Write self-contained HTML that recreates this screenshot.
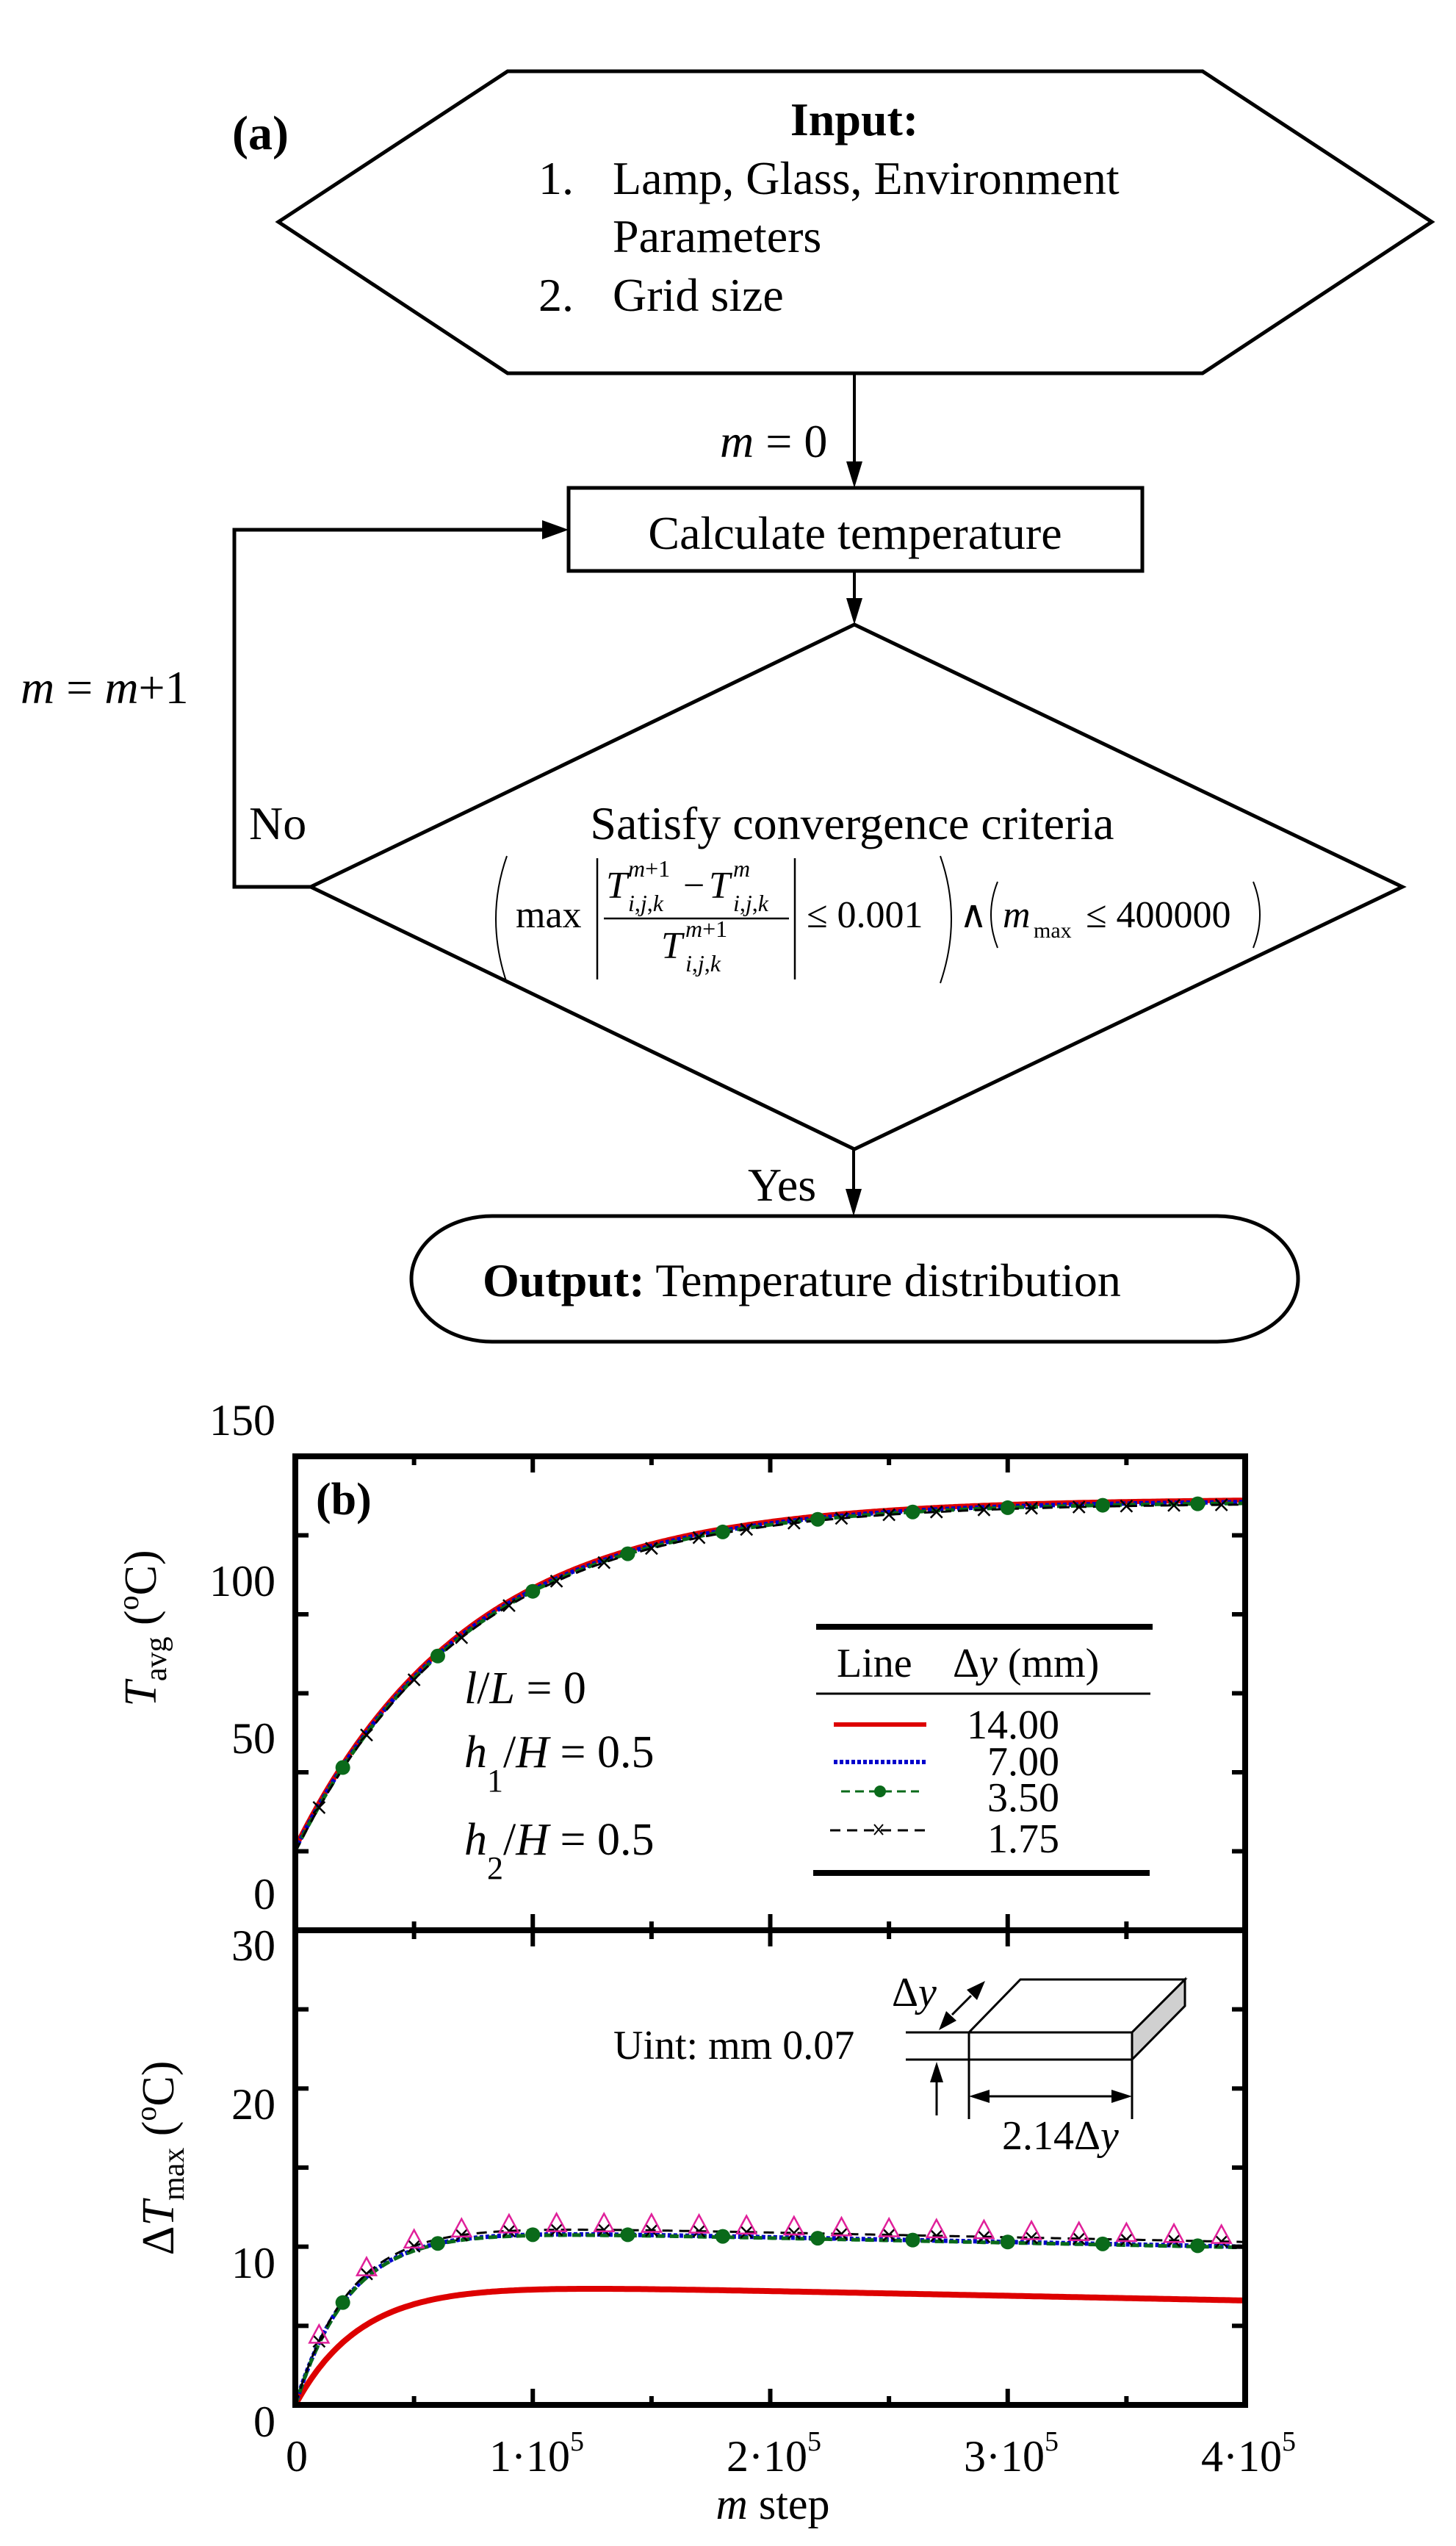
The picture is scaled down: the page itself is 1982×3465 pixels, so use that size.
<!DOCTYPE html>
<html><head><meta charset="utf-8"><style>
html,body{margin:0;padding:0;background:#fff}
svg{display:block}
text{font-family:"Liberation Serif",serif;fill:#000}
</style></head><body>
<svg id="s" width="1982" height="3465" viewBox="0 0 1982 3465" xmlns="http://www.w3.org/2000/svg">
<!-- (a) flowchart -->
<text x="316" y="203" font-size="66" font-weight="bold">(a)</text>
<polygon points="691,97 1637,97 1949,302 1637,508 691,508 379,302" fill="none" stroke="#000" stroke-width="5"/>
<text x="1163" y="184" font-size="64" font-weight="bold" text-anchor="middle">Input:</text>
<text x="733" y="264" font-size="64">1.</text>
<text x="834" y="264" font-size="64">Lamp, Glass, Environment</text>
<text x="834" y="343" font-size="64">Parameters</text>
<text x="733" y="423" font-size="64">2.</text>
<text x="834" y="423" font-size="64">Grid size</text>

<line x1="1163" y1="508" x2="1163" y2="630" stroke="#000" stroke-width="4"/>
<polygon points="1152,628 1174,628 1163,664" fill="#000"/>
<text x="980" y="622" font-size="64"><tspan font-style="italic">m</tspan> = 0</text>

<rect x="774" y="664" width="781" height="113" fill="none" stroke="#000" stroke-width="5"/>
<text x="1164" y="747" font-size="64" text-anchor="middle">Calculate temperature</text>

<line x1="1163" y1="777" x2="1163" y2="816" stroke="#000" stroke-width="4"/>
<polygon points="1152,814 1174,814 1163,850" fill="#000"/>

<polygon points="1163,850 1909,1207 1163,1564 423,1207" fill="none" stroke="#000" stroke-width="5"/>
<text x="1160" y="1142" font-size="64" text-anchor="middle">Satisfy convergence criteria</text>

<!-- formula -->
<path d="M690,1165 Q660,1250 690,1338" fill="none" stroke="#000" stroke-width="2"/>
<text x="702" y="1262" font-size="52">max</text>
<line x1="813" y1="1168" x2="813" y2="1333" stroke="#000" stroke-width="2.5"/>
<line x1="1082" y1="1168" x2="1082" y2="1333" stroke="#000" stroke-width="2.5"/>
<text x="825" y="1222" font-size="52" font-style="italic">T</text>
<text x="855" y="1193" font-size="32" font-style="italic">m<tspan font-style="normal">+1</tspan></text>
<text x="855" y="1240" font-size="32" font-style="italic">i<tspan font-style="normal">,</tspan>j<tspan font-style="normal">,</tspan>k</text>
<text x="930" y="1222" font-size="52">−</text>
<text x="965" y="1222" font-size="52" font-style="italic">T</text>
<text x="998" y="1193" font-size="32" font-style="italic">m</text>
<text x="998" y="1240" font-size="32" font-style="italic">i<tspan font-style="normal">,</tspan>j<tspan font-style="normal">,</tspan>k</text>
<line x1="822" y1="1250" x2="1074" y2="1250" stroke="#000" stroke-width="2.5"/>
<text x="900" y="1304" font-size="52" font-style="italic">T</text>
<text x="933" y="1275" font-size="32" font-style="italic">m<tspan font-style="normal">+1</tspan></text>
<text x="933" y="1322" font-size="32" font-style="italic">i<tspan font-style="normal">,</tspan>j<tspan font-style="normal">,</tspan>k</text>
<text x="1098" y="1262" font-size="52">≤ 0.001</text>
<path d="M1280,1165 Q1310,1250 1280,1338" fill="none" stroke="#000" stroke-width="2"/>
<text x="1306" y="1262" font-size="52">∧</text>
<path d="M1358,1200 Q1340,1245 1358,1290" fill="none" stroke="#000" stroke-width="2"/>
<text x="1365" y="1262" font-size="52" font-style="italic">m</text>
<text x="1407" y="1276" font-size="30">max</text>
<text x="1478" y="1262" font-size="52">≤ 400000</text>
<path d="M1706,1200 Q1724,1245 1706,1290" fill="none" stroke="#000" stroke-width="2"/>

<!-- loop -->
<polyline points="423,1207 319,1207 319,721 740,721" fill="none" stroke="#000" stroke-width="5"/>
<polygon points="738,708 738,734 774,721" fill="#000"/>
<text x="28" y="957" font-size="64"><tspan font-style="italic">m</tspan> = <tspan font-style="italic">m</tspan>+1</text>
<text x="339" y="1142" font-size="64">No</text>

<line x1="1162" y1="1564" x2="1162" y2="1620" stroke="#000" stroke-width="4"/>
<polygon points="1151,1618 1173,1618 1162,1655" fill="#000"/>
<text x="1018" y="1634" font-size="64">Yes</text>

<rect x="560" y="1655" width="1207" height="171" rx="110" ry="85.5" fill="none" stroke="#000" stroke-width="5"/>
<text x="657" y="1764" font-size="64"><tspan font-weight="bold">Output:</tspan>  Temperature distribution</text>

<!-- (b) plot -->
<g id="plot"></g>
<rect x="402" y="1982" width="1293" height="1291" fill="none" stroke="#000" stroke-width="8"/>
<line x1="402" y1="2627" x2="1695" y2="2627" stroke="#000" stroke-width="8"/>
<g id="ticks" stroke="#000" stroke-width="6"></g>
<text x="430" y="2061" font-size="62" font-weight="bold">(b)</text>

<!-- y tick labels -->
<g font-size="60" text-anchor="end">
<text x="375" y="1953">150</text>
<text x="375" y="2172">100</text>
<text x="375" y="2386">50</text>
<text x="375" y="2598">0</text>
<text x="375" y="2668">30</text>
<text x="375" y="2884">20</text>
<text x="375" y="3100">10</text>
<text x="375" y="3316">0</text>
</g>
<!-- x tick labels -->
<g font-size="60">
<text x="404" y="3363" text-anchor="middle">0</text>
<text x="666" y="3363">1·10<tspan font-size="38" dy="-28">5</tspan></text>
<text x="989" y="3363">2·10<tspan font-size="38" dy="-28">5</tspan></text>
<text x="1312" y="3363">3·10<tspan font-size="38" dy="-28">5</tspan></text>
<text x="1635" y="3363">4·10<tspan font-size="38" dy="-28">5</tspan></text>
</g>
<text x="1052" y="3428" font-size="60" text-anchor="middle"><tspan font-style="italic">m</tspan> step</text>

<text transform="translate(212,2216) rotate(-90)" font-size="62" text-anchor="middle"><tspan font-style="italic">T</tspan><tspan font-size="42" dy="14">avg</tspan><tspan dy="-14"> (</tspan><tspan font-size="40" dy="-24">o</tspan><tspan dy="24">C)</tspan></text>
<text transform="translate(236,2937) rotate(-90)" font-size="62" text-anchor="middle">Δ<tspan font-style="italic">T</tspan><tspan font-size="42" dy="14">max</tspan><tspan dy="-14"> (</tspan><tspan font-size="40" dy="-24">o</tspan><tspan dy="24">C)</tspan></text>

<!-- annotations -->
<g font-size="62">
<text x="632" y="2318"><tspan font-style="italic">l</tspan>/<tspan font-style="italic">L</tspan> = 0</text>
<text x="632" y="2405"><tspan font-style="italic">h</tspan><tspan font-size="44" dy="33">1</tspan><tspan dy="-33">/</tspan><tspan font-style="italic">H</tspan> = 0.5</text>
<text x="632" y="2524"><tspan font-style="italic">h</tspan><tspan font-size="44" dy="33">2</tspan><tspan dy="-33">/</tspan><tspan font-style="italic">H</tspan> = 0.5</text>
</g>

<!-- legend -->
<line x1="1111" y1="2214" x2="1569" y2="2214" stroke="#000" stroke-width="8"/>
<text x="1139" y="2282" font-size="56">Line</text>
<text x="1297" y="2282" font-size="56">Δ<tspan font-style="italic">y</tspan> (mm)</text>
<line x1="1111" y1="2305" x2="1566" y2="2305" stroke="#000" stroke-width="3"/>
<line x1="1135" y1="2347" x2="1261" y2="2347" stroke="#d00" stroke-width="6"/>
<line x1="1135" y1="2398" x2="1261" y2="2398" stroke="#0000cc" stroke-width="6" stroke-dasharray="5 3"/>
<line x1="1145" y1="2438" x2="1251" y2="2438" stroke="#0a6a1a" stroke-width="3" stroke-dasharray="12 7"/>
<circle cx="1198" cy="2438" r="8" fill="#0a6a1a"/>
<line x1="1130" y1="2491" x2="1261" y2="2491" stroke="#000" stroke-width="3" stroke-dasharray="14 9"/>
<path d="M1190,2483 l12,14 M1202,2483 l-12,14" stroke="#000" stroke-width="2"/>
<g font-size="56" text-anchor="end">
<text x="1442" y="2366">14.00</text>
<text x="1442" y="2416">7.00</text>
<text x="1442" y="2465">3.50</text>
<text x="1442" y="2521">1.75</text>
</g>
<line x1="1107" y1="2549" x2="1565" y2="2549" stroke="#000" stroke-width="8"/>

<!-- inset -->
<g stroke="#000" stroke-width="3" fill="none">
<polygon points="1319,2766 1389,2694 1613,2694 1541,2766" fill="#fff"/>
<polygon points="1541,2766 1613,2694 1613,2730 1541,2803" fill="#d0d0d0"/>
<rect x="1319" y="2766" width="222" height="37" fill="#fff"/>
<line x1="1233" y1="2766" x2="1319" y2="2766"/>
<line x1="1233" y1="2803" x2="1319" y2="2803"/>
<line x1="1319" y1="2803" x2="1319" y2="2884"/>
<line x1="1541" y1="2803" x2="1541" y2="2884"/>
<line x1="1275" y1="2879" x2="1275" y2="2830"/>
<line x1="1345" y1="2853" x2="1515" y2="2853"/>
<line x1="1296" y1="2742" x2="1322" y2="2716"/>
</g>
<polygon points="1275,2806 1266,2834 1284,2834" fill="#000"/>
<polygon points="1319,2853 1347,2844 1347,2862" fill="#000"/>
<polygon points="1541,2853 1513,2844 1513,2862" fill="#000"/>
<polygon points="1278,2763 1288,2737 1302,2750" fill="#000"/>
<polygon points="1341,2696 1316,2708 1330,2722" fill="#000"/>
<text x="1214" y="2730" font-size="56">Δ<tspan font-style="italic">y</tspan></text>
<text x="835" y="2802" font-size="56">Uint: mm  0.07</text>
<text x="1364" y="2925" font-size="56">2.14Δ<tspan font-style="italic">y</tspan></text>
</svg>
<script>
(function(){
var NS="http://www.w3.org/2000/svg",g=document.getElementById("plot"),tk=document.getElementById("ticks");
function X(v){return 402+v*323.25;}
function YU(t){return 2627-t*4.3;}
function YL(t){return 3273-t*21.53;}
function el(n,a,p){var e=document.createElementNS(NS,n);for(var k in a)e.setAttribute(k,a[k]);(p||g).appendChild(e);return e;}
function path(f,Y,a){var d="";for(var i=0;i<=400;i++){var v=i/100;d+=(i?"L":"M")+X(v).toFixed(1)+","+Y(f(v)).toFixed(1);}a.d=d;a.fill="none";el("path",a);}
var Tu=function(v){return 25.6+110.4*(1-Math.exp(-v/0.735));};
path(function(v){return Tu(v)+0.6;},YU,{stroke:"#d00","stroke-width":7});
path(Tu,YU,{stroke:"#0000cc","stroke-width":6,"stroke-dasharray":"5 3"});
path(function(v){return Tu(v)-0.4;},YU,{stroke:"#0a6a1a","stroke-width":5,"stroke-dasharray":"12 7"});
path(function(v){return Tu(v)-0.8;},YU,{stroke:"#000","stroke-width":3,"stroke-dasharray":"14 9"});
var red=function(v){return (7.5-0.3*(v-1))*(1-Math.exp(-v/0.28));};
var oth=function(v){return (10.9-0.3*(v-1))*(1-Math.exp(-v/0.23));};
path(red,YL,{stroke:"#d00","stroke-width":8});
path(oth,YL,{stroke:"#0000cc","stroke-width":6,"stroke-dasharray":"5 3"});
path(function(v){return oth(v)-0.05;},YL,{stroke:"#0a6a1a","stroke-width":5,"stroke-dasharray":"12 7"});
var blk=function(v){return oth(v)+0.3*(1-Math.exp(-v/0.3));};
path(blk,YL,{stroke:"#000","stroke-width":3,"stroke-dasharray":"14 9"});
var i,v;
for(v=0.2;v<4;v+=0.4){el("circle",{cx:X(v),cy:YU(Tu(v)-0.4),r:10,fill:"#0a6a1a"});el("circle",{cx:X(v),cy:YL(oth(v)),r:10,fill:"#0a6a1a"});}
for(v=0.1;v<4;v+=0.2){var x=X(v),y=YU(Tu(v)-0.8);el("path",{d:"M"+(x-8)+","+(y-8)+"l16,16M"+(x+8)+","+(y-8)+"l-16,16",stroke:"#000","stroke-width":2.5});
var y2=YL(blk(v));el("path",{d:"M"+(x-8)+","+(y2-8)+"l16,16M"+(x+8)+","+(y2-8)+"l-16,16",stroke:"#000","stroke-width":2.5});
el("polygon",{points:x+","+(y2-22)+" "+(x-13)+","+(y2+2)+" "+(x+13)+","+(y2+2),fill:"none",stroke:"#e0209a","stroke-width":2.5});}
// ticks
for(i=1;i<8;i++){var xx=X(i*0.5),L=(i%2==0)?22:12;
el("line",{x1:xx,y1:1982,x2:xx,y2:1982+L},tk);el("line",{x1:xx,y1:2627-L,x2:xx,y2:2627+L},tk);el("line",{x1:xx,y1:3273-L,x2:xx,y2:3273},tk);}
for(i=1;i<6;i++){var yy=1982+i*107.5;el("line",{x1:402,y1:yy,x2:420,y2:yy},tk);el("line",{x1:1677,y1:yy,x2:1695,y2:yy},tk);}
for(i=1;i<6;i++){var yy2=2627+i*107.67;el("line",{x1:402,y1:yy2,x2:420,y2:yy2},tk);el("line",{x1:1677,y1:yy2,x2:1695,y2:yy2},tk);}
})();
</script>
</body></html>
